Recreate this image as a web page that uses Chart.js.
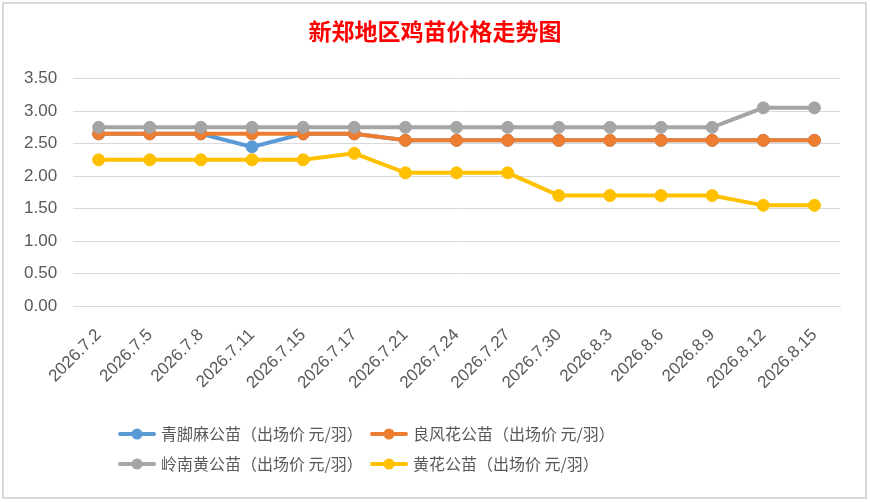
<!DOCTYPE html>
<html>
<head>
<meta charset="utf-8">
<script src="https://cdn.jsdelivr.net/npm/chart.js@4.4.0/dist/chart.umd.min.js"></script>
<style>
  body { margin: 0; background: #fff; }
  #c { display: block; }
</style>
</head>
<body>
<canvas id="c" width="870" height="502"></canvas>
<script>
const chartTitle = '新郑地区鸡苗价格走势图';
const dates = ['2026.7.2', '2026.7.5', '2026.7.8', '2026.7.11', '2026.7.15', '2026.7.17', '2026.7.21',
    '2026.7.24', '2026.7.27', '2026.7.30', '2026.8.3', '2026.8.6', '2026.8.9', '2026.8.12', '2026.8.15'];
const seriesNames = ['青脚麻公苗（出场价 元/羽）', '良风花公苗（出场价 元/羽）', '岭南黄公苗（出场价 元/羽）', '黄花公苗（出场价 元/羽）'];
const qingjiaoma = [2.65, 2.65, 2.65, 2.45, 2.65, 2.65, 2.55, 2.55, 2.55, 2.55, 2.55, 2.55, 2.55, 2.55, 2.55];
const liangfenghua = [2.65, 2.65, 2.65, 2.65, 2.65, 2.65, 2.55, 2.55, 2.55, 2.55, 2.55, 2.55, 2.55, 2.55, 2.55];
const lingnanhuang = [2.75, 2.75, 2.75, 2.75, 2.75, 2.75, 2.75, 2.75, 2.75, 2.75, 2.75, 2.75, 2.75, 3.05, 3.05];
const huanghua = [2.25, 2.25, 2.25, 2.25, 2.25, 2.35, 2.05, 2.05, 2.05, 1.70, 1.70, 1.70, 1.70, 1.55, 1.55];
const yTicks = { min: 0, max: 3.5, step: 0.5 };

const colors = ['#5B9BD5', '#ED7D31', '#A5A5A5', '#FFC000'];
const values = [qingjiaoma, liangfenghua, lingnanhuang, huanghua];

function makeSet(i) {
    return {
        label: seriesNames[i],
        data: values[i],
        borderColor: colors[i],
        backgroundColor: colors[i],
        pointBackgroundColor: colors[i],
        pointBorderColor: colors[i],
        borderWidth: 4,
        pointRadius: 6,
        pointBorderWidth: 1,
        tension: 0,
        order: 4 - i,
    };
}

// legend in two columns, like the spreadsheet one
const gridLegend = {
    id: 'gridLegend',
    afterLayout(chart) {
        // centre the title on the whole picture, not on the padded box
        if (chart.titleBlock) {
            chart.titleBlock.left = 0;
            chart.titleBlock.right = chart.width;
        }
    },
    beforeDraw(chart) {
        const ctx = chart.ctx;
        ctx.save();
        ctx.fillStyle = '#ffffff';
        ctx.fillRect(0, 0, chart.width, chart.height);
        ctx.strokeStyle = '#d9d9d9';
        ctx.lineWidth = 2;
        ctx.strokeRect(3, 3, 863, 495);
        ctx.restore();
    },
    afterDraw(chart) {
        const ctx = chart.ctx;
        const cols = [118, 370];
        const rows = [434, 464];
        ctx.save();
        chart.data.datasets.forEach((ds, i) => {
            const x = cols[i % 2];
            const y = rows[Math.floor(i / 2)];
            ctx.strokeStyle = ds.borderColor;
            ctx.lineWidth = 4;
            ctx.lineCap = 'round';
            ctx.beginPath();
            ctx.moveTo(x + 2, y);
            ctx.lineTo(x + 36, y);
            ctx.stroke();
            ctx.fillStyle = ds.borderColor;
            ctx.beginPath();
            ctx.arc(x + 19, y, 5.5, 0, Math.PI * 2);
            ctx.fill();
            ctx.fillStyle = '#595959';
            ctx.font = '16px "Noto Sans CJK SC"';
            ctx.textBaseline = 'middle';
            ctx.fillText(ds.label, x + 43, y);
        });
        ctx.restore();
    }
};

new Chart(document.getElementById('c'), {
    type: 'line',
    data: {
        labels: dates,
        datasets: [0, 1, 2, 3].map(makeSet),
    },
    options: {
        responsive: false,
        animation: false,
        layout: { padding: { left: 8, right: 30, top: 0, bottom: 98 } },
        plugins: {
            legend: { display: false },
            tooltip: { enabled: false },
            title: {
                display: true,
                text: chartTitle,
                color: '#FF0000',
                font: { family: '"Noto Sans CJK SC"', size: 23, weight: 'bold' },
                padding: { top: 17, bottom: 34 },
            },
        },
        scales: {
            x: {
                offset: true,
                grid: { display: false },
                border: { display: true, color: '#d9d9d9', width: 1 },
                ticks: {
                    color: '#595959',
                    font: { family: '"Liberation Sans"', size: 17 },
                    minRotation: 45,
                    maxRotation: 45,
                    padding: 11,
                },
            },
            y: {
                min: yTicks.min,
                max: yTicks.max,
                grid: { color: '#d9d9d9', lineWidth: 1, drawTicks: false },
                border: { display: false },
                ticks: {
                    stepSize: yTicks.step,
                    color: '#595959',
                    font: { family: '"Liberation Sans"', size: 17 },
                    padding: 16,
                    callback: v => v.toFixed(2),
                },
            },
        },
    },
    plugins: [gridLegend],
});
</script>
</body>
</html>
